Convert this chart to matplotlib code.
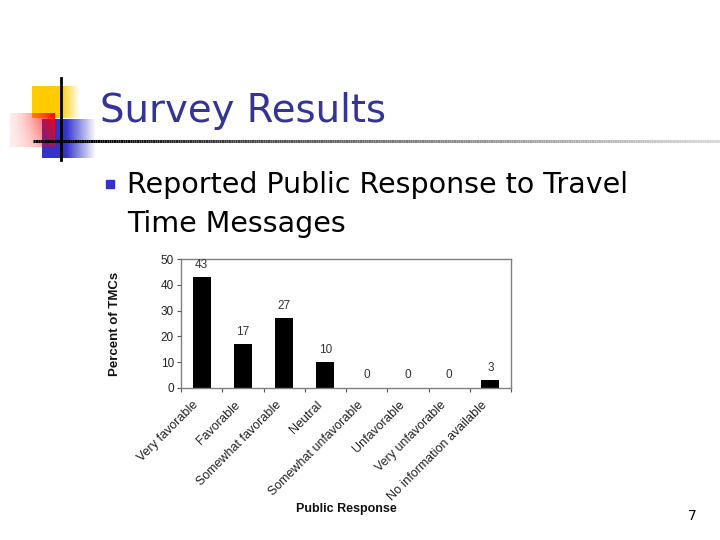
import matplotlib
matplotlib.use("Agg")
import matplotlib.pyplot as plt
import matplotlib.transforms as mtransforms
import numpy as np

# chart data
responses = ["Very favorable", "Favorable", "Somewhat favorable", "Neutral",
             "Somewhat unfavorable", "Unfavorable", "Very unfavorable",
             "No information available"]
percent = [43, 17, 27, 10, 0, 0, 0, 3]
yticks = [0, 10, 20, 30, 40, 50]

title = "Survey Results"
bullet_lines = ["Reported Public Response to Travel", "Time Messages"]
page_no = "7"

W, H = 720, 540
fig = plt.figure(figsize=(W / 100, H / 100), dpi=100)
fig.patch.set_facecolor("white")

# overlay axes in pixel coordinates for the slide decoration
deco = fig.add_axes([0, 0, 1, 1])
deco.set_xlim(0, W)
deco.set_ylim(H, 0)
deco.axis("off")


def grad_box(ax, x0, x1, y0, y1, rgb, alpha_fn, z):
    nx, ny = 80, 40
    xs = np.linspace(0, 1, nx)
    ys = np.linspace(0, 1, ny)
    X, Y = np.meshgrid(xs, ys)
    img = np.zeros((ny, nx, 4))
    img[..., 0], img[..., 1], img[..., 2] = rgb
    img[..., 3] = np.clip(alpha_fn(X, Y), 0, 1)
    ax.imshow(img, extent=(x0, x1, y1, y0), origin="upper",
              interpolation="bilinear", zorder=z, aspect="auto")


# yellow square, fades to the right
grad_box(deco, 32, 80, 86, 118, (1.0, 0.8, 0.0),
         lambda X, Y: np.where(X < 0.6, 1.0, 1 - (X - 0.6) / 0.4), 1)
# blue square, fades to the right
grad_box(deco, 42, 96, 119, 158, (0.2, 0.2, 0.8),
         lambda X, Y: np.where(X < 0.45, 1.0, 1 - (X - 0.45) / 0.55), 2)
# red rectangle, strongest at top right
grad_box(deco, 10, 55, 113, 147, (1.0, 0.0, 0.0),
         lambda X, Y: 0.08 + 0.92 * X ** 1.6 * (1 - 0.55 * Y), 3)

# horizontal rule, black fading to light gray
xs = np.linspace(33, 720, 300)
for xa, xb in zip(xs[:-1], xs[1:]):
    g = 0.0 if xa < 95 else 0.85 * ((xa - 95) / 625) ** 0.8
    deco.plot([xa, xb], [141, 141], color=(g, g, g), lw=2.2,
              solid_capstyle="butt", zorder=4)
deco.plot([61, 61], [78, 160], color="black", lw=2.0, zorder=5)

deco.text(100, 122, title, fontsize=27.8, color="#333399",
          family="DejaVu Sans", va="baseline", ha="left")

deco.add_patch(plt.Rectangle((106, 180), 8, 8, color="#3333cc", zorder=5))
deco.text(127, 193, bullet_lines[0], fontsize=20.5, color="black",
          family="DejaVu Sans", va="baseline", ha="left")
deco.text(127, 232, bullet_lines[1], fontsize=20.5, color="black",
          family="DejaVu Sans", va="baseline", ha="left")

deco.text(692, 516, page_no, fontsize=10, color="black",
          family="DejaVu Sans", va="center", ha="center")

# bar chart
ax = fig.add_axes([181 / W, 1 - 388 / H, 330 / W, 129 / H])
pos = np.arange(len(responses))
bars = ax.bar(pos, percent, width=0.44, color="black", zorder=2)
ax.set_xlim(-0.5, len(responses) - 0.5)
ax.set_ylim(0, 50)
ax.set_yticks(yticks)
ax.set_yticklabels([str(v) for v in yticks], fontsize=8.5, color="#222222",
                   family="Liberation Sans")
ax.tick_params(axis="y", length=3, width=0.8, color="#555555", pad=2)

ax.set_xticks(pos)
ax.set_xticklabels(responses, rotation=45, ha="right",
                   rotation_mode="anchor", fontsize=9, color="#222222",
                   family="Liberation Sans")
ax.tick_params(axis="x", length=0, pad=0)
shift = mtransforms.ScaledTranslation(-0.09, -0.11, fig.dpi_scale_trans)
for lab in ax.get_xticklabels():
    lab.set_transform(lab.get_transform() + shift)
ax.set_xticks(np.arange(len(responses) + 1) - 0.5, minor=True)
ax.tick_params(axis="x", which="minor", length=3, width=0.8, color="#555555")

for s in ax.spines.values():
    s.set_color("#808080")
    s.set_linewidth(1.0)

for b, v in zip(bars, percent):
    ax.annotate(str(v), (b.get_x() + b.get_width() / 2, v),
                xytext=(0, 9), textcoords="offset points",
                ha="center", va="center", fontsize=8.5, color="#333333",
                family="Liberation Sans")

fig.text(115 / W, 1 - 324 / H, "Percent of TMCs", rotation=90,
         fontsize=9.5, fontweight="bold", family="Liberation Sans",
         ha="center", va="center", color="#111111")
fig.text(346 / W, 1 - 509 / H, "Public Response", fontsize=9,
         fontweight="bold", family="Liberation Sans",
         ha="center", va="center", color="#111111")

fig.savefig("out.png", dpi=100)
